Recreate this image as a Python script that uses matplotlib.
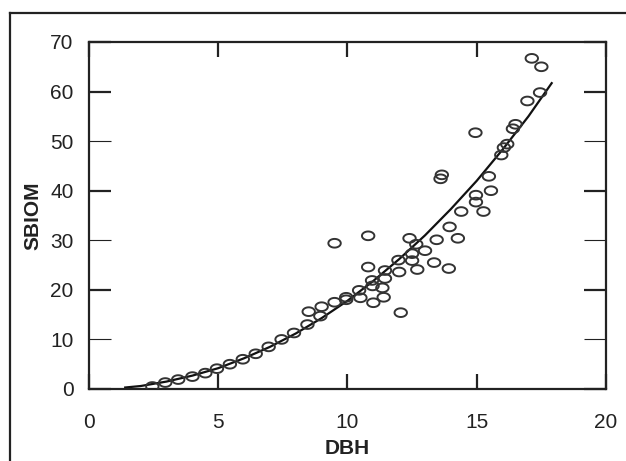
import numpy as np
import matplotlib
matplotlib.use('Agg')
import matplotlib.pyplot as plt
from matplotlib.path import Path
from matplotlib.lines import Line2D

# scatter values
dbh = [2.45, 2.95, 3.45, 4.0, 4.5, 4.95, 5.45, 5.95, 6.45, 6.95, 7.45, 7.93,
       8.45, 8.5, 8.95, 9.0, 9.5, 9.5, 9.95, 9.95,
       10.45, 10.5, 10.8, 10.8, 10.95, 10.97, 11.0, 11.4, 11.35, 11.45, 11.45,
       11.97, 12.0, 12.06, 12.4, 12.5, 12.5, 12.66, 12.7, 13.0, 13.35, 13.45,
       13.6, 13.65, 13.92, 13.95, 14.27, 14.4, 14.95, 14.97, 14.97, 15.26,
       15.47, 15.55, 15.95, 16.05, 16.18, 16.4, 16.5, 16.96, 17.13, 17.45, 17.5]
sbiom = [0.5, 1.3, 1.9, 2.5, 3.2, 4.1, 5.0, 6.0, 7.1, 8.5, 10.0, 11.3,
         13.0, 15.6, 14.7, 16.6, 17.5, 29.4, 18.5, 18.0,
         19.9, 18.4, 24.6, 30.9, 21.9, 20.8, 17.4, 18.5, 20.4, 22.3, 23.9,
         26.0, 23.6, 15.4, 30.4, 27.3, 25.9, 29.2, 24.1, 27.9, 25.5, 30.1,
         42.4, 43.2, 24.3, 32.7, 30.4, 35.8, 51.7, 39.1, 37.7, 35.8,
         42.9, 40.0, 47.2, 48.7, 49.4, 52.5, 53.4, 58.1, 66.7, 59.8, 65.0]

# fitted curve, read at a few DBH values
curve_x = [1.4, 2, 3, 4, 5, 6, 7, 8, 9, 10, 11, 12, 13, 14, 15, 16, 17, 17.9]
curve_y = [0.3, 0.6, 1.5, 2.7, 4.2, 6.2, 8.5, 11.2, 14.3, 17.8, 21.8, 26.2,
           31.0, 36.3, 42.0, 48.3, 55.0, 61.7]

x_ticks = [0, 5, 10, 15, 20]
y_ticks = [0, 10, 20, 30, 40, 50, 60, 70]

plt.rcParams['font.family'] = ['Liberation Sans', 'DejaVu Sans']

fig = plt.figure(figsize=(6.26, 4.61), dpi=100)
ax = fig.add_axes([0.1422, 0.1562, 0.968 - 0.1422, 0.9089 - 0.1562])

# slightly flattened open circles
t = np.linspace(0, 2 * np.pi, 40)
ellipse = Path(np.column_stack([np.cos(t), 0.7 * np.sin(t)]), closed=True)

ax.plot(curve_x, curve_y, color='#111111', linewidth=1.6, zorder=2)
ax.scatter(dbh, sbiom, marker=ellipse, s=80, facecolors='none',
           edgecolors='#333333', linewidths=1.4, zorder=3)

ax.set_xlim(0, 20)
ax.set_ylim(0, 70)
ax.set_xticks(x_ticks)
ax.set_yticks(y_ticks)
ax.tick_params(axis='x', direction='in', length=11, width=1.6, top=True,
               pad=17, labelsize=15, colors='#222222')
ax.tick_params(axis='y', direction='in', length=16, width=1.6, right=True,
               pad=11, labelsize=15, colors='#222222')
# odd y ticks look thinner / fainter in the scan
for i, tk in enumerate(ax.yaxis.get_major_ticks()):
    if y_ticks[i] in (10, 30, 50):
        tk.tick1line.set_markeredgewidth(0.8)
        tk.tick2line.set_markeredgewidth(0.8)
        tk.tick1line.set_color('#777777')
        tk.tick2line.set_color('#777777')

for sp in ax.spines.values():
    sp.set_linewidth(1.6)
    sp.set_color('#222222')

ax.set_xlabel('DBH', fontsize=15, fontweight='bold', color='#222222', labelpad=5)
ax.set_ylabel('SBIOM', fontsize=15, fontweight='bold', color='#222222', labelpad=6)

# outer frame (runs off the right and bottom edges)
fx = 10 / 626
fy = 1 - 12.7 / 461
fig.add_artist(Line2D([fx, fx], [-0.01, fy], transform=fig.transFigure,
                      color='#222222', linewidth=1.6))
fig.add_artist(Line2D([fx, 1.01], [fy, fy], transform=fig.transFigure,
                      color='#222222', linewidth=1.6))

fig.savefig('out.png', dpi=100)
